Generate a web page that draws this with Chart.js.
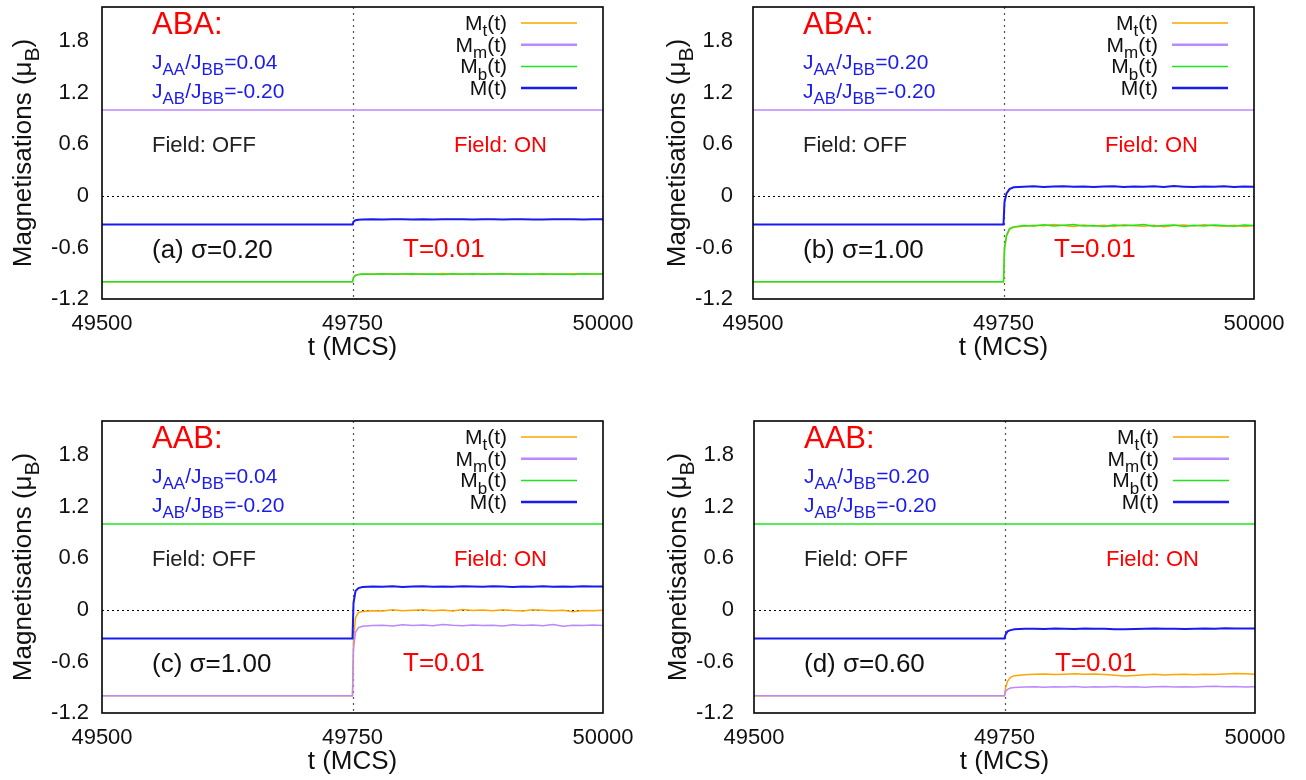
<!DOCTYPE html>
<html>
<head>
<meta charset="utf-8">
<script src="https://cdn.jsdelivr.net/npm/chart.js@4.4.1/dist/chart.umd.min.js"></script>
<style>
  html, body { margin: 0; padding: 0; background: #fff; width: 1306px; height: 780px; overflow: hidden; }
  .panel { position: absolute; width: 653px; height: 410px; }
</style>
</head>
<body>
<div class="panel" style="left:0px;top:0px"><canvas id="chartA" width="653" height="410"></canvas></div>
<div class="panel" style="left:651px;top:0px"><canvas id="chartB" width="653" height="410"></canvas></div>
<div class="panel" style="left:0px;top:414px"><canvas id="chartC" width="653" height="410"></canvas></div>
<div class="panel" style="left:652px;top:414px"><canvas id="chartD" width="653" height="410"></canvas></div>
<script>
// time axis (MCS), field switched on at 49750
const times = [49500, 49750, 49751, 49753, 49756, 49760, 49770, 49780, 49790, 49800,
  49810, 49820, 49830, 49840, 49850, 49860, 49870, 49880, 49890, 49900,
  49910, 49920, 49930, 49940, 49950, 49960, 49970, 49980, 49990, 50000];

const xTicks = [49500, 49750, 50000];
const yTicks = [-1.2, -0.6, 0, 0.6, 1.2, 1.8];

// (a) ABA, sigma = 0.20
const aMt = [-1, -1, -0.95, -0.925, -0.915, -0.912, -0.908, -0.913, -0.905, -0.910, -0.915, -0.907, -0.911, -0.904, -0.912, -0.909, -0.914, -0.906, -0.910, -0.913, -0.907, -0.911, -0.908, -0.915, -0.909, -0.912, -0.906, -0.910, -0.913, -0.909];
const aMm = [1, 1, 1, 1, 1, 1, 1, 1, 1, 1, 1, 1, 1, 1, 1, 1, 1, 1, 1, 1, 1, 1, 1, 1, 1, 1, 1, 1, 1, 1];
const aMb = [-1, -1, -0.95, -0.925, -0.915, -0.910, -0.913, -0.906, -0.911, -0.908, -0.905, -0.912, -0.909, -0.914, -0.907, -0.911, -0.906, -0.912, -0.908, -0.905, -0.913, -0.909, -0.911, -0.906, -0.912, -0.908, -0.914, -0.907, -0.910, -0.908];
const aM = [-0.333, -0.333, -0.30, -0.283, -0.276, -0.274, -0.272, -0.273, -0.270, -0.272, -0.274, -0.271, -0.273, -0.270, -0.272, -0.271, -0.274, -0.272, -0.270, -0.273, -0.272, -0.271, -0.273, -0.274, -0.271, -0.272, -0.270, -0.273, -0.272, -0.271];

// (b) ABA, sigma = 1.00
const bMt = [-1, -1, -0.62, -0.47, -0.39, -0.365, -0.352, -0.340, -0.348, -0.332, -0.345, -0.356, -0.338, -0.350, -0.342, -0.355, -0.336, -0.347, -0.352, -0.340, -0.358, -0.344, -0.337, -0.349, -0.335, -0.346, -0.353, -0.341, -0.356, -0.348];
const bMm = [1, 1, 1, 1, 1, 1, 1, 1, 1, 1, 1, 1, 1, 1, 1, 1, 1, 1, 1, 1, 1, 1, 1, 1, 1, 1, 1, 1, 1, 1];
const bMb = [-1, -1, -0.60, -0.46, -0.38, -0.360, -0.345, -0.350, -0.336, -0.349, -0.340, -0.333, -0.351, -0.343, -0.356, -0.338, -0.348, -0.341, -0.334, -0.352, -0.345, -0.339, -0.355, -0.342, -0.350, -0.337, -0.344, -0.352, -0.339, -0.345];
const bM = [-0.333, -0.333, -0.07, 0.03, 0.08, 0.100, 0.108, 0.112, 0.105, 0.110, 0.114, 0.106, 0.111, 0.103, 0.109, 0.113, 0.104, 0.110, 0.107, 0.112, 0.105, 0.115, 0.108, 0.103, 0.111, 0.106, 0.113, 0.104, 0.109, 0.107];

// (c) AAB, sigma = 1.00
const cMt = [-1, -1, -0.35, -0.09, -0.03, -0.018, -0.008, -0.012, 0.002, -0.010, -0.004, 0.003, -0.009, -0.002, -0.011, 0.004, -0.006, -0.001, -0.010, 0.002, -0.007, -0.012, 0.001, -0.005, -0.009, -0.003, -0.020, -0.006, -0.008, -0.004];
const cMm = [-1, -1, -0.45, -0.26, -0.205, -0.190, -0.182, -0.178, -0.186, -0.172, -0.180, -0.176, -0.184, -0.170, -0.179, -0.185, -0.174, -0.181, -0.177, -0.187, -0.173, -0.180, -0.176, -0.183, -0.171, -0.190, -0.178, -0.182, -0.175, -0.180];
const cMb = [1, 1, 1, 1, 1, 1, 1, 1, 1, 1, 1, 1, 1, 1, 1, 1, 1, 1, 1, 1, 1, 1, 1, 1, 1, 1, 1, 1, 1, 1];
const cM = [-0.333, -0.333, 0.08, 0.22, 0.255, 0.266, 0.272, 0.270, 0.275, 0.268, 0.273, 0.277, 0.271, 0.274, 0.269, 0.276, 0.272, 0.270, 0.275, 0.273, 0.268, 0.274, 0.271, 0.276, 0.270, 0.273, 0.269, 0.275, 0.272, 0.274];

// (d) AAB, sigma = 0.60
const dMt = [-1, -1, -0.91, -0.83, -0.785, -0.765, -0.755, -0.750, -0.745, -0.752, -0.748, -0.743, -0.750, -0.747, -0.753, -0.760, -0.768, -0.762, -0.755, -0.750, -0.757, -0.752, -0.748, -0.755, -0.750, -0.753, -0.745, -0.740, -0.742, -0.748];
const dMm = [-1, -1, -0.95, -0.925, -0.91, -0.902, -0.898, -0.895, -0.900, -0.893, -0.897, -0.892, -0.899, -0.894, -0.896, -0.890, -0.897, -0.893, -0.899, -0.895, -0.891, -0.896, -0.894, -0.898, -0.892, -0.889, -0.895, -0.891, -0.897, -0.893];
const dMb = [1, 1, 1, 1, 1, 1, 1, 1, 1, 1, 1, 1, 1, 1, 1, 1, 1, 1, 1, 1, 1, 1, 1, 1, 1, 1, 1, 1, 1, 1];
const dM = [-0.333, -0.333, -0.29, -0.25, -0.235, -0.226, -0.220, -0.218, -0.221, -0.217, -0.219, -0.222, -0.216, -0.220, -0.218, -0.224, -0.226, -0.221, -0.219, -0.217, -0.220, -0.218, -0.222, -0.219, -0.216, -0.218, -0.214, -0.215, -0.217, -0.216];

const FONT = '"Liberation Sans", Arial, Helvetica, sans-serif';
const COL_T = '#ffa500', COL_M = '#bb88ff', COL_B = '#1ee61e', COL_TOT = '#1a1aee';

// draw text made of [string, isSubscript] pieces
function richText(ctx, segs, x, y, size, color, align) {
  const main = size + 'px ' + FONT;
  const sub = Math.round(size * 0.8) + 'px ' + FONT;
  let w = 0;
  segs.forEach(s => { ctx.font = s[1] ? sub : main; w += ctx.measureText(s[0]).width; });
  let cx = x;
  if (align === 'right') cx = x - w;
  if (align === 'center') cx = x - w / 2;
  ctx.fillStyle = color;
  ctx.textBaseline = 'alphabetic';
  ctx.textAlign = 'left';
  segs.forEach(s => {
    ctx.font = s[1] ? sub : main;
    ctx.fillText(s[0], cx, s[1] ? y + size * 0.3 : y);
    cx += ctx.measureText(s[0]).width;
  });
}

const panelDecor = {
  id: 'panelDecor',
  beforeDatasetsDraw(chart) {
    const ctx = chart.ctx, a = chart.chartArea;
    const xs = chart.scales.x, ys = chart.scales.y;
    ctx.save();
    ctx.lineWidth = 1.2;
    // field switch line
    ctx.strokeStyle = '#555';
    ctx.setLineDash([2, 4]);
    const xv = Math.round(xs.getPixelForValue(49750)) + 0.5;
    ctx.beginPath(); ctx.moveTo(xv, a.top); ctx.lineTo(xv, a.bottom); ctx.stroke();
    // zero line
    ctx.strokeStyle = '#000';
    ctx.setLineDash([2, 3]);
    const y0 = Math.round(ys.getPixelForValue(0)) + 0.5;
    ctx.beginPath(); ctx.moveTo(a.left, y0); ctx.lineTo(a.right, y0); ctx.stroke();
    ctx.restore();
  },
  afterDatasetsDraw(chart, args, o) {
    const ctx = chart.ctx, a = chart.chartArea;
    ctx.save();
    ctx.strokeStyle = '#000';
    ctx.lineWidth = 1.6;
    ctx.strokeRect(a.left, a.top, a.right - a.left, a.bottom - a.top);

    const L = a.left, T = a.top;
    richText(ctx, [[o.stack, 0]], L + 50, T + 27, 31, '#ff0000');
    richText(ctx, [['J', 0], ['AA', 1], ['/J', 0], ['BB', 1], ['=' + o.jaa, 0]], L + 50, T + 62, 21, '#1a1aee');
    richText(ctx, [['J', 0], ['AB', 1], ['/J', 0], ['BB', 1], ['=' + o.jab, 0]], L + 50, T + 91, 21, '#1a1aee');
    richText(ctx, [['Field: OFF', 0]], L + 50, T + 145, 22, '#222');
    richText(ctx, [['Field: ON', 0]], L + 352, T + 145, 22, '#ff0000');
    richText(ctx, [[o.tag, 0]], L + 50, T + 251, 26, '#111');
    richText(ctx, [['T=0.01', 0]], L + 301, T + 250, 26, '#ff0000');

    // key
    const keys = [
      [[['M', 0], ['t', 1], ['(t)', 0]], COL_T, 1.5],
      [[['M', 0], ['m', 1], ['(t)', 0]], COL_M, 2.5],
      [[['M', 0], ['b', 1], ['(t)', 0]], COL_B, 1.5],
      [[['M(t)', 0]], COL_TOT, 2.5]
    ];
    keys.forEach((k, i) => {
      const cy = T + 16 + i * 21.7;
      richText(ctx, k[0], L + 405, cy + 7, 21, '#111', 'right');
      ctx.strokeStyle = k[1];
      ctx.lineWidth = k[2];
      ctx.beginPath(); ctx.moveTo(L + 419, cy); ctx.lineTo(L + 475, cy); ctx.stroke();
    });

    // axis titles
    richText(ctx, [['t (MCS)', 0]], (a.left + a.right) / 2, a.bottom + 56, 26, '#111', 'center');
    ctx.translate(a.left + o.yTitleDx, (a.top + a.bottom) / 2);
    ctx.rotate(-Math.PI / 2);
    richText(ctx, [['Magnetisations (\u03bc', 0], ['B', 1], [')', 0]], 0, 9, 26, '#111', 'center');
    ctx.restore();
  }
};

function makePanel(canvasId, Mt, Mm, Mb, M, decor) {
  const pts = arr => arr.map((v, i) => ({ x: times[i], y: v }));
  const ds = (label, arr, color, w, order) => ({
    label: label, data: pts(arr), borderColor: color, borderWidth: w,
    pointRadius: 0, fill: false, tension: 0, order: order
  });
  new Chart(document.getElementById(canvasId), {
    type: 'line',
    data: {
      datasets: [
        ds('Mt(t)', Mt, COL_T, 1.5, 3),
        ds('Mm(t)', Mm, COL_M, 1.5, 2),
        ds('Mb(t)', Mb, COL_B, 1.5, 1),
        ds('M(t)', M, COL_TOT, 2, 0)
      ]
    },
    options: {
      responsive: false,
      animation: false,
      layout: { padding: { top: 7, right: 50, left: 0, bottom: 0 } },
      plugins: { legend: { display: false }, tooltip: { enabled: false }, panelDecor: decor },
      scales: {
        x: {
          type: 'linear', min: 49500, max: 50000,
          afterBuildTicks: s => { s.ticks = xTicks.map(v => ({ value: v })); },
          ticks: { callback: v => String(v), color: '#111', font: { size: 22, family: FONT }, padding: 4, maxRotation: 0, autoSkip: false },
          grid: { display: false }, border: { display: false },
          afterFit: s => { s.height = 111; s.paddingLeft = 0; s.paddingRight = 0; }
        },
        y: {
          min: -1.2, max: 2.2,
          afterBuildTicks: s => { s.ticks = yTicks.map(v => ({ value: v })); },
          ticks: { callback: v => (Math.abs(v) < 1e-9 ? '0' : v.toFixed(1)), color: '#111', font: { size: 22, family: FONT }, padding: decor.yPad },
          grid: { display: false }, border: { display: false },
          afterFit: s => { s.width = 102; s.paddingTop = 0; s.paddingBottom = 0; }
        }
      }
    },
    plugins: [panelDecor]
  });
}

makePanel('chartA', aMt, aMm, aMb, aM, { stack: 'ABA:', jaa: '0.04', jab: '-0.20', tag: '(a) \u03c3=0.20', yPad: 5, yTitleDx: -80 });
makePanel('chartB', bMt, bMm, bMb, bM, { stack: 'ABA:', jaa: '0.20', jab: '-0.20', tag: '(b) \u03c3=1.00', yPad: 12, yTitleDx: -77 });
makePanel('chartC', cMt, cMm, cMb, cM, { stack: 'AAB:', jaa: '0.04', jab: '-0.20', tag: '(c) \u03c3=1.00', yPad: 5, yTitleDx: -80 });
makePanel('chartD', dMt, dMm, dMb, dM, { stack: 'AAB:', jaa: '0.20', jab: '-0.20', tag: '(d) \u03c3=0.60', yPad: 12, yTitleDx: -77 });
</script>
</body>
</html>
